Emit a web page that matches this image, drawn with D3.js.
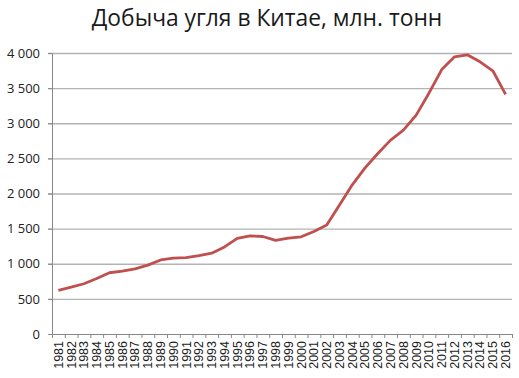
<!DOCTYPE html>
<html>
<head>
<meta charset="utf-8">
<script src="https://cdn.jsdelivr.net/npm/d3@7"></script>
<style>
  body { margin: 0; background: #fff; }
  .container { width: 519px; height: 378px; }
</style>
</head>
<body>
<div class="container"></div>
<script>
const width = 519;
const height = 378;
const margin = { top: 53, bottom: 44, left: 52, right: 7 };

const title = 'Добыча угля в Китае, млн. тонн';
const years = [1981, 1982, 1983, 1984, 1985, 1986, 1987, 1988, 1989, 1990,
    1991, 1992, 1993, 1994, 1995, 1996, 1997, 1998, 1999, 2000,
    2001, 2002, 2003, 2004, 2005, 2006, 2007, 2008, 2009, 2010,
    2011, 2012, 2013, 2014, 2015, 2016];
const output = [622, 666, 715, 789, 872, 894, 928, 980, 1054, 1080,
    1087, 1116, 1150, 1240, 1361, 1397, 1388, 1332, 1364, 1384,
    1459, 1550, 1835, 2123, 2365, 2570, 2760, 2903, 3115, 3428,
    3764, 3945, 3974, 3874, 3747, 3411];
const yTicks = [0, 500, 1000, 1500, 2000, 2500, 3000, 3500, 4000];

const data = years.map((y, i) => ({ year: y, value: output[i] }));

const svg = d3.select('.container')
    .append('svg')
    .attr('width', width)
    .attr('height', height);

const innerW = width - margin.left - margin.right;
const innerH = height - margin.top - margin.bottom;

const x = d3.scaleBand()
    .domain(years)
    .range([0, innerW]);

const y = d3.scaleLinear()
    .domain([0, 4000])
    .range([innerH, 0]);

const G = svg.append('g')
    .attr('transform', 'translate(' + margin.left + ',' + margin.top + ')');

svg.append('text')
    .attr('x', 267)
    .attr('y', 26)
    .attr('text-anchor', 'middle')
    .style('font-family', '"Open Sans", sans-serif')
    .style('font-size', '22.8px')
    .style('fill', '#1a1a1a')
    .text(title);

// gridlines
G.selectAll('.grid')
    .data(yTicks.filter(d => d > 0))
    .join('line')
    .attr('class', 'grid')
    .attr('x1', -4)
    .attr('x2', innerW)
    .attr('y1', d => y(d) + 0.5)
    .attr('y2', d => y(d) + 0.5)
    .style('stroke', '#b3b3b3')
    .style('stroke-width', 1.3);

// y axis
const yAxis = G.append('g')
    .call(d3.axisLeft(y)
        .tickValues(yTicks)
        .tickSize(4)
        .tickPadding(8)
        .tickFormat(d => d3.format(',')(d).replace(',', ' ')));
yAxis.select('.domain').style('stroke', '#888');
yAxis.selectAll('.tick line').style('stroke', '#888');
yAxis.selectAll('text')
    .style('font-family', '"Open Sans", sans-serif')
    .style('font-size', '13px')
    .style('fill', '#222');

// x axis with ticks between categories
const xAxis = G.append('g')
    .attr('transform', 'translate(0,' + innerH + ')')
    .call(d3.axisBottom(x).tickSize(0).tickSizeOuter(0));
xAxis.select('.domain').style('stroke', '#888').attr('d', 'M0,0.5H' + innerW);
xAxis.selectAll('.tick line').remove();

G.append('g')
    .selectAll('line')
    .data(d3.range(years.length + 1))
    .join('line')
    .attr('x1', i => i * x.step() + 0.5)
    .attr('x2', i => i * x.step() + 0.5)
    .attr('y1', innerH)
    .attr('y2', innerH + 4)
    .style('stroke', '#888');

xAxis.selectAll('text')
    .attr('transform', 'rotate(-90)')
    .attr('text-anchor', 'end')
    .attr('x', -7)
    .attr('y', 0)
    .attr('dy', '0.35em')
    .style('font-family', '"Liberation Sans", Arial, sans-serif')
    .style('font-size', '12.5px')
    .style('fill', '#222');

// line
const line = d3.line()
    .x(d => x(d.year) + x.bandwidth() / 2)
    .y(d => y(d.value));

G.append('path')
    .datum(data)
    .attr('d', line)
    .style('fill', 'none')
    .style('stroke', '#c0504d')
    .style('stroke-width', 2.8)
    .style('stroke-linejoin', 'round');
</script>
</body>
</html>
